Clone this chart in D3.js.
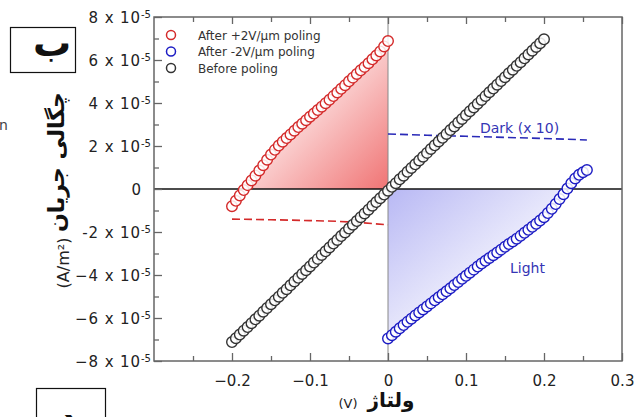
<!DOCTYPE html>
<html>
<head>
<meta charset="utf-8">
<script src="https://cdn.jsdelivr.net/npm/d3@7"></script>
<style>
  body { margin: 0; background: #fff; }
  svg { display: block; font-family: "DejaVu Sans", Verdana, sans-serif; }
</style>
</head>
<body>
<div id="chart"></div>
<script>
// ── Data (current density in units of 1e-5 A/m², voltage in V) ─────────────
const redV = [-0.200,-0.195,-0.190,-0.185,-0.180,-0.175,-0.170,-0.165,-0.160,-0.155,
  -0.150,-0.145,-0.140,-0.135,-0.130,-0.125,-0.120,-0.115,-0.110,-0.105,
  -0.100,-0.095,-0.090,-0.085,-0.080,-0.075,-0.070,-0.065,-0.060,-0.055,
  -0.050,-0.045,-0.040,-0.035,-0.030,-0.025,-0.020,-0.015,-0.010,-0.005,0.000];
const redJ = [-0.80,-0.55,-0.30,-0.05,0.18,0.40,0.62,0.86,1.11,1.36,
  1.60,1.82,2.02,2.20,2.37,2.54,2.71,2.88,3.04,3.20,
  3.36,3.51,3.67,3.83,3.99,4.15,4.32,4.49,4.66,4.83,
  5.01,5.18,5.35,5.52,5.68,5.85,6.03,6.21,6.40,6.63,6.88];

const blackV = [-0.200,-0.195,-0.190,-0.185,-0.180,-0.175,-0.170,-0.165,-0.160,-0.155,
  -0.150,-0.145,-0.140,-0.135,-0.130,-0.125,-0.120,-0.115,-0.110,-0.105,
  -0.100,-0.095,-0.090,-0.085,-0.080,-0.075,-0.070,-0.065,-0.060,-0.055,
  -0.050,-0.045,-0.040,-0.035,-0.030,-0.025,-0.020,-0.015,-0.010,-0.005,
  0.000,0.005,0.010,0.015,0.020,0.025,0.030,0.035,0.040,0.045,
  0.050,0.055,0.060,0.065,0.070,0.075,0.080,0.085,0.090,0.095,
  0.100,0.105,0.110,0.115,0.120,0.125,0.130,0.135,0.140,0.145,
  0.150,0.155,0.160,0.165,0.170,0.175,0.180,0.185,0.190,0.195,0.200];
const blackJ = [-7.12,-6.94,-6.77,-6.59,-6.42,-6.24,-6.06,-5.89,-5.71,-5.54,
  -5.36,-5.18,-5.01,-4.83,-4.66,-4.48,-4.30,-4.13,-3.95,-3.78,
  -3.60,-3.42,-3.25,-3.07,-2.90,-2.72,-2.54,-2.37,-2.19,-2.02,
  -1.84,-1.66,-1.49,-1.31,-1.14,-0.96,-0.78,-0.61,-0.43,-0.26,
  -0.08,0.10,0.27,0.45,0.62,0.80,0.98,1.15,1.33,1.50,
  1.68,1.86,2.03,2.21,2.38,2.56,2.74,2.91,3.09,3.26,
  3.44,3.62,3.79,3.97,4.14,4.32,4.50,4.67,4.85,5.02,
  5.20,5.38,5.55,5.73,5.90,6.08,6.26,6.43,6.61,6.78,6.96];

const blueV = [0.000,0.005,0.010,0.015,0.020,0.025,0.030,0.035,0.040,0.045,
  0.050,0.055,0.060,0.065,0.070,0.075,0.080,0.085,0.090,0.095,
  0.100,0.105,0.110,0.115,0.120,0.125,0.130,0.135,0.140,0.145,
  0.150,0.155,0.160,0.165,0.170,0.175,0.180,0.185,0.190,0.195,
  0.200,0.205,0.210,0.215,0.220,0.225,0.230,0.235,0.240,0.245,0.250,0.255];
const blueJ = [-6.95,-6.80,-6.64,-6.48,-6.33,-6.18,-6.03,-5.88,-5.74,-5.60,
  -5.46,-5.32,-5.18,-5.04,-4.90,-4.76,-4.62,-4.47,-4.33,-4.18,
  -4.04,-3.89,-3.75,-3.61,-3.47,-3.34,-3.21,-3.08,-2.95,-2.82,
  -2.69,-2.56,-2.44,-2.31,-2.18,-2.04,-1.90,-1.76,-1.62,-1.47,
  -1.31,-1.12,-0.92,-0.70,-0.47,-0.24,0.02,0.27,0.49,0.66,0.78,0.88];

const darkRedV = [-0.200,-0.150,-0.100,-0.050,0.000];
const darkRedJ = [-1.40,-1.43,-1.47,-1.53,-1.67];
const darkBlueV = [0.000,0.050,0.100,0.150,0.200,0.255];
const darkBlueJ = [2.56,2.50,2.45,2.40,2.35,2.28];

const xTicks = [-0.2,-0.1,0,0.1,0.2,0.3];
const xTickLabels = ["\u22120.2","\u22120.1","0","0.1","0.2","0.3"];
const yTicks = [-8,-6,-4,-2,0,2,4,6,8];
const yTickLabels = ["\u22128 x 10","\u22126 x 10","\u22124 x 10","-2 x 10","0","2 x 10","4 x 10","6 x 10","8 x 10"];

const legendLabels = ["After +2V/\u00b5m poling","After -2V/\u00b5m poling","Before poling"];
const seriesColors = ["#d42a2a","#1c1cc4","#333333"];

// ── Setup ───────────────────────────────────────────────────────────────────
const W = 638, H = 417;
const svg = d3.select("#chart").append("svg").attr("width", W).attr("height", H);

const x = d3.scaleLinear().domain([-0.3, 0.3]).range([154, 622]);
const y = d3.scaleLinear().domain([-8, 8]).range([361, 17]);

const zip = (vs, js) => vs.map((v, i) => ({ v, j: js[i] }));
const red = zip(redV, redJ), black = zip(blackV, blackJ), blue = zip(blueV, blueJ);

// gradients
const defs = svg.append("defs");
const gRed = defs.append("linearGradient").attr("id", "gRed")
  .attr("x1", 0).attr("y1", 0).attr("x2", 1).attr("y2", 1);
gRed.append("stop").attr("offset", "0").attr("stop-color", "#ffffff");
gRed.append("stop").attr("offset", "0.45").attr("stop-color", "#fbd6d6");
gRed.append("stop").attr("offset", "1").attr("stop-color", "#f07474");
const gBlue = defs.append("linearGradient").attr("id", "gBlue")
  .attr("x1", 0).attr("y1", 0).attr("x2", 1).attr("y2", 1);
gBlue.append("stop").attr("offset", "0").attr("stop-color", "#b8b8f4");
gBlue.append("stop").attr("offset", "0.75").attr("stop-color", "#ffffff");

// shaded areas
svg.append("path").datum(red.filter(d => d.j >= -0.1))
  .attr("fill", "url(#gRed)")
  .attr("d", d3.area().x(d => x(d.v)).y0(y(0)).y1(d => y(Math.max(d.j, 0))));
svg.append("path").datum(blue.filter(d => d.j <= 0.1))
  .attr("fill", "url(#gBlue)")
  .attr("d", d3.area().x(d => x(d.v)).y0(y(0)).y1(d => y(Math.min(d.j, 0))));

// zero lines
svg.append("line").attr("x1", x(0)).attr("x2", x(0)).attr("y1", y(8)).attr("y2", y(-8))
  .attr("stroke", "#888").attr("stroke-width", 1);
svg.append("line").attr("x1", x(-0.3)).attr("x2", x(0.3)).attr("y1", y(0)).attr("y2", y(0))
  .attr("stroke", "#111").attr("stroke-width", 1.5);

// dark curves (x 10)
const dline = d3.line().x(d => x(d.v)).y(d => y(d.j)).curve(d3.curveMonotoneX);
svg.append("path").datum(zip(darkRedV, darkRedJ))
  .attr("fill", "none").attr("stroke", "#d42a2a").attr("stroke-width", 1.6)
  .attr("stroke-dasharray", "8 4").attr("d", dline);
svg.append("path").datum(zip(darkBlueV, darkBlueJ))
  .attr("fill", "none").attr("stroke", "#2a2ab8").attr("stroke-width", 1.6)
  .attr("stroke-dasharray", "8 4").attr("d", dline);

// markers
[[black, seriesColors[2]], [red, seriesColors[0]], [blue, seriesColors[1]]].forEach(([data, col]) => {
  svg.append("g").selectAll("circle").data(data).enter().append("circle")
    .attr("cx", d => x(d.v)).attr("cy", d => y(d.j)).attr("r", 5.3)
    .attr("fill", "#fff").attr("fill-opacity", 0.85)
    .attr("stroke", col).attr("stroke-width", 1.4);
});

// annotations
svg.append("text").attr("x", 480).attr("y", 133).attr("font-size", 14)
  .attr("fill", "#3535b5").text("Dark (x 10)");
svg.append("text").attr("x", 510).attr("y", 273).attr("font-size", 14)
  .attr("fill", "#3535b5").text("Light");

// frame
svg.append("rect").attr("x", 154).attr("y", 17).attr("width", 468).attr("height", 344)
  .attr("fill", "none").attr("stroke", "#666").attr("stroke-width", 1.5);

// axes
const styleAxis = g => {
  g.select(".domain").remove();
  g.selectAll(".tick line").attr("stroke", "#666").attr("stroke-width", 1.3);
  g.selectAll("text").attr("fill", "#222").attr("font-family", "DejaVu Sans, sans-serif");
};
const minorX = d3.range(-0.25, 0.3, 0.1);
const minorY = d3.range(-7, 8, 2);

svg.append("g").attr("transform", `translate(0,${y(-8)})`)
  .call(d3.axisBottom(x).tickValues(xTicks).tickFormat((d, i) => xTickLabels[i])
    .tickSizeInner(-8).tickSizeOuter(0).tickPadding(14))
  .call(styleAxis)
  .call(g => g.selectAll("text").attr("font-size", 15));
svg.append("g").attr("transform", `translate(0,${y(-8)})`)
  .call(d3.axisBottom(x).tickValues(minorX).tickFormat("").tickSizeInner(-5).tickSizeOuter(0))
  .call(styleAxis);
svg.append("g").attr("transform", `translate(0,${y(8)})`)
  .call(d3.axisTop(x).tickValues(xTicks).tickFormat("").tickSizeInner(-7).tickSizeOuter(0))
  .call(styleAxis);
svg.append("g").attr("transform", `translate(0,${y(8)})`)
  .call(d3.axisTop(x).tickValues(minorX).tickFormat("").tickSizeInner(-5).tickSizeOuter(0))
  .call(styleAxis);

const yAxisG = svg.append("g").attr("transform", `translate(${x(-0.3)},0)`)
  .call(d3.axisLeft(y).tickValues(yTicks).tickFormat("").tickSizeInner(-8).tickSizeOuter(0).tickPadding(2))
  .call(styleAxis);
svg.append("g").attr("transform", `translate(${x(-0.3)},0)`)
  .call(d3.axisLeft(y).tickValues(minorY).tickFormat("").tickSizeInner(-5).tickSizeOuter(0))
  .call(styleAxis);

yAxisG.selectAll(".tick").each(function (d, i) {
  const t = d3.select(this).select("text")
    .attr("x", d === 0 ? -13 : -3).attr("dy", "0.35em")
    .attr("font-size", 15).attr("letter-spacing", d === 0 ? 0 : 0.9).text(null);
  t.append("tspan").text(yTickLabels[i]);
  if (d !== 0) t.append("tspan").attr("dy", "-0.5em").attr("font-size", 10)
    .attr("letter-spacing", 0).text("-5");
});

// legend
legendLabels.forEach((lab, i) => {
  const ly = 35 + i * 16.5;
  svg.append("circle").attr("cx", 171).attr("cy", ly).attr("r", 4.5)
    .attr("fill", "none").attr("stroke", seriesColors[i]).attr("stroke-width", 1.5);
  svg.append("text").attr("x", 198).attr("y", ly + 4.5).attr("font-size", 12)
    .attr("fill", "#333").text(lab);
});

// axis titles
svg.append("text").attr("transform", "translate(64,162) rotate(-90)")
  .attr("text-anchor", "middle").attr("font-size", 22).attr("font-weight", "bold")
  .attr("fill", "#111").text("چگالی جریان");
svg.append("text").attr("transform", "translate(69,263) rotate(-90)")
  .attr("text-anchor", "middle").attr("font-size", 16).attr("fill", "#222")
  .text("(A/m²)");
svg.append("text").attr("x", 391).attr("y", 407)
  .attr("text-anchor", "middle").attr("font-size", 20).attr("font-weight", "bold")
  .attr("fill", "#111").text("ولتاژ");
svg.append("text").attr("x", 348).attr("y", 408)
  .attr("text-anchor", "middle").attr("font-size", 13).attr("fill", "#222").text("(V)");

// panel boxes & stray text
svg.append("rect").attr("x", 10.5).attr("y", 27.5).attr("width", 65).attr("height", 45)
  .attr("fill", "#fff").attr("stroke", "#111").attr("stroke-width", 1.2);
svg.append("text").attr("x", 52).attr("y", 56).attr("text-anchor", "middle")
  .attr("font-size", 38).attr("font-weight", "bold").attr("fill", "#111").text("ب");
svg.append("rect").attr("x", 36.5).attr("y", 388.5).attr("width", 69).attr("height", 45)
  .attr("fill", "#fff").attr("stroke", "#111").attr("stroke-width", 1.2);
svg.append("text").attr("x", 68).attr("y", 429).attr("text-anchor", "middle")
  .attr("font-size", 34).attr("font-weight", "bold").attr("fill", "#111").text("د");
svg.append("text").attr("x", -1).attr("y", 130).attr("font-size", 14)
  .attr("fill", "#444").text("n");
</script>
</body>
</html>
